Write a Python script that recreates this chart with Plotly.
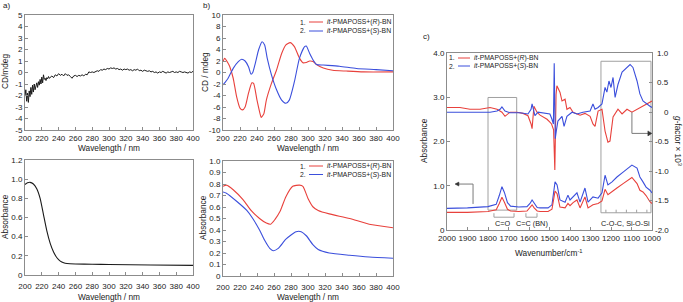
import plotly.graph_objects as go

W, H = 683, 302
def px(x): return x / W
def py(y): return 1 - y / H

RED = '#e8413c'
BLUE = '#3b4fdc'
BLACK = '#1a1a1a'
GRAY = '#8c8c8c'
FONT = 'Liberation Sans, Arial, sans-serif'

# ---------------- panel a (top): CD of polymer ----------------
wl_a_cd = list(range(200, 231)) + list(range(232, 401, 2))
cd_a = [-2.0, -1.5, -2.5, -1.8, -2.6, -1.6, -2.1, -1.3, -1.9, -1.1, -1.7, -1.0, -1.5, -1.2, -0.9,
        -1.3, -0.8, -1.1, -0.6, -1.0, -0.4, -0.9, -0.2, -0.6, -0.5, -0.7, -0.45, -0.55, -0.35, -0.5, -0.4,
        -0.3, -0.45, -0.2, -0.3, -0.1, -0.25, -0.15, -0.3, -0.1, -0.25, -0.2, -0.35, -0.5, -0.3, -0.25,
        -0.35, -0.25, -0.3, -0.2, -0.3, -0.15, -0.2, 0.05, 0.0, 0.05, 0.0, 0.1, 0.15, 0.1, 0.25,
        0.2, 0.3, 0.25, 0.35, 0.3, 0.4, 0.35, 0.4, 0.3, 0.35, 0.25, 0.3, 0.2, 0.3, 0.25,
        0.3, 0.2, 0.25, 0.15, 0.25, 0.2, 0.3, 0.15, 0.2, 0.1, 0.2, 0.15, 0.1, 0.15, 0.05,
        0.1, 0.0, 0.05, -0.05, 0.05, 0.0, 0.1, 0.05, -0.05, 0.05, 0.0, 0.05, 0.1, 0.0, 0.05,
        0.0, 0.1, 0.05, 0.0, 0.05, 0.0, -0.05, 0.05, 0.0, 0.1]

# ---------------- panel a (bottom): absorbance ----------------
wl_a_abs = [200, 203, 206, 210, 214, 218, 222, 226, 230, 234, 238, 242, 246, 250, 260, 280, 300, 350, 400]
abs_a = [0.945, 0.962, 0.967, 0.95, 0.9, 0.8, 0.63, 0.46, 0.33, 0.24, 0.18, 0.145, 0.128, 0.12, 0.115,
         0.112, 0.11, 0.105, 0.1]

# ---------------- panel b (top): CD with BN ----------------
wl_b_red = [200, 202, 206, 208, 212, 216, 220, 223, 226, 230, 234, 236, 240, 244, 245, 248, 251, 257, 263,
            269, 274, 279, 284, 290, 294, 298, 302, 306, 310, 318, 329, 345, 365, 400]
cd_b_red = [1.9, 2.45, 1.6, 1.0, -1.0, -4.2, -6.2, -6.5, -6.0, -3.6, -1.8, -1.9, -4.8, -7.4, -7.8, -7.2,
            -4.8, -1.9, 0.43, 3.3, 4.8, 5.2, 4.5, 2.5, 1.7, 1.75, 2.0, 1.9, 1.4, 0.8, 0.4, 0.25, 0.1, 0.1]
wl_b_blue = [200, 206, 212, 218, 222, 226, 230, 233, 235, 238, 242, 246, 249, 252, 257, 263, 269, 274, 278,
             284, 290, 296, 298, 302, 306, 310, 318, 337, 357, 380, 400]
cd_b_blue = [-2.17, -1.0, 0.72, 1.88, 2.3, 2.0, 1.0, -0.3, 0.0, 1.6, 4.0, 5.36, 4.8, 2.5, -0.4, -3.0, -4.8,
             -5.36, -4.8, -1.6, 2.5, 4.5, 4.6, 3.3, 2.17, 1.4, 1.3, 1.1, 0.7, 0.5, 0.3]

# ---------------- panel b (bottom): absorbance with BN ----------------
wl_b_abs_red = [200, 204, 212, 224, 233, 243, 251, 256, 261, 267, 274, 282, 290, 294, 300, 306, 312, 325,
                349, 372, 400]
abs_b_red = [0.78, 0.79, 0.75, 0.66, 0.57, 0.50, 0.46, 0.45, 0.49, 0.56, 0.69, 0.78, 0.79, 0.78, 0.675,
             0.60, 0.57, 0.54, 0.50, 0.45, 0.42]
wl_b_abs_blue = [200, 204, 216, 228, 235, 243, 249, 255, 259, 265, 274, 286, 292, 298, 306, 312, 325, 349,
                 372, 400]
abs_b_blue = [0.73, 0.72, 0.65, 0.57, 0.50, 0.40, 0.31, 0.24, 0.22, 0.24, 0.32, 0.385, 0.385, 0.35, 0.27,
              0.23, 0.20, 0.18, 0.165, 0.155]

# ---------------- panel c: IR absorbance and VCD g-factor ----------------
ir_wn = [2000, 1900, 1800, 1760, 1745, 1732, 1720, 1705, 1690, 1650, 1610, 1595, 1585, 1575, 1560, 1546,
         1507, 1488, 1473, 1463, 1449, 1424, 1410, 1400, 1385, 1366, 1351, 1327, 1312, 1288, 1263, 1244,
         1229, 1215, 1195, 1171, 1141, 1098, 1073, 1059, 1044, 1029, 1010, 1000]
ir_blue = [0.49, 0.5, 0.53, 0.58, 0.78, 0.98, 0.85, 0.62, 0.54, 0.52, 0.53, 0.6, 0.68, 0.6, 0.51, 0.5,
           0.5, 0.57, 1.09, 1.02, 0.68, 0.63, 0.79, 0.68, 0.75, 0.84, 0.63, 0.95, 0.63, 0.75, 0.72, 0.84,
           1.24, 1.02, 1.09, 1.2, 1.31, 1.47, 1.4, 1.2, 1.09, 0.97, 0.9, 0.84]
ir_red = [0.4, 0.4, 0.42, 0.46, 0.6, 0.74, 0.63, 0.47, 0.43, 0.42, 0.43, 0.5, 0.57, 0.5, 0.43, 0.42,
          0.42, 0.47, 0.88, 0.82, 0.52, 0.5, 0.6, 0.55, 0.62, 0.68, 0.5, 0.75, 0.5, 0.57, 0.6, 0.66,
          0.92, 0.8, 0.86, 0.95, 1.05, 1.19, 1.05, 0.9, 0.86, 0.78, 0.64, 0.6]

g_wn_red = [2000, 1937, 1888, 1839, 1790, 1756, 1732, 1717, 1693, 1659, 1629, 1605, 1590, 1585, 1576, 1561,
            1546, 1512, 1498, 1490, 1480, 1474, 1468, 1464, 1449, 1439, 1424, 1415, 1400, 1385, 1351, 1327,
            1302, 1288, 1278, 1263, 1244, 1229, 1215, 1205, 1190, 1166, 1146, 1122, 1098, 1073, 1044, 1010,
            1000]
g_red = [0.08, 0.08, 0.05, 0.05, 0.08, 0.05, 0.0, -0.07, 0.0, 0.0, -0.02, -0.06, -0.2, -0.28, 0.1, 0.0,
         -0.05, -0.12, -0.17, -0.2, -0.3, -0.98, 0.3, 0.45, 0.34, 0.19, 0.22, 0.05, 0.08, 0.0, -0.05, -0.02,
         -0.07, -0.2, -0.24, 0.02, 0.05, -0.32, -0.51, -0.49, -0.08, 0.05, -0.03, 0.05, 0.0, 0.05, 0.1, 0.17,
         0.19]
g_wn_blue = [2000, 1888, 1790, 1756, 1741, 1732, 1717, 1693, 1644, 1605, 1590, 1585, 1571, 1556, 1512, 1498,
             1488, 1481, 1477, 1472, 1466, 1459, 1439, 1429, 1415, 1390, 1366, 1337, 1302, 1288, 1278, 1263,
             1244, 1229, 1220, 1210, 1200, 1190, 1180, 1166, 1146, 1132, 1107, 1093, 1073, 1059, 1044, 1010,
             1000]
g_blue = [0.0, 0.0, 0.0, 0.02, 0.05, 0.09, 0.02, -0.01, -0.01, -0.03, 0.05, 0.14, -0.06, 0.0, -0.02, -0.03,
          -0.12, -0.2, 0.83, -0.45, -0.3, -0.15, -0.07, -0.24, -0.07, 0.0, -0.03, 0.0, 0.02, 0.14, 0.05, 0.08,
          0.14, 0.42, 0.34, 0.53, 0.42, 0.59, 0.25, 0.47, 0.68, 0.73, 0.81, 0.76, 0.53, 0.31, 0.19, 0.1, 0.08]

g_ticks = [1.0, 0.5, 0.0, -0.5, -1.0, -1.5, -2.0]
g_ticktext = ['1.0', '0.5', '0', '-0.5', '-1.0', '-1.5', '-2.0']

series_names = ['<i>it</i>-PMAPOSS+(<i>R</i>)-BN', '<i>it</i>-PMAPOSS+(<i>S</i>)-BN']

fig = go.Figure()

def line(x, y, color, xa, ya, shape='spline', width=1.1):
    fig.add_trace(go.Scatter(x=x, y=y, mode='lines', xaxis=xa, yaxis=ya, showlegend=False,
                             line=dict(color=color, width=width, shape=shape, smoothing=0.6),
                             hoverinfo='skip'))

line(wl_a_cd, cd_a, BLACK, 'x', 'y', shape='linear', width=1)
line(wl_a_abs, abs_a, BLACK, 'x2', 'y2')
line(wl_b_red, cd_b_red, RED, 'x3', 'y3')
line(wl_b_blue, cd_b_blue, BLUE, 'x3', 'y3')
line(wl_b_abs_red, abs_b_red, RED, 'x4', 'y4')
line(wl_b_abs_blue, abs_b_blue, BLUE, 'x4', 'y4')
line(ir_wn, ir_blue, BLUE, 'x5', 'y5', shape='linear')
line(ir_wn, ir_red, RED, 'x5', 'y5', shape='linear')
line(g_wn_red, g_red, RED, 'x5', 'y6', shape='linear')
line(g_wn_blue, g_blue, BLUE, 'x5', 'y6', shape='linear')

tickfont = dict(family=FONT, size=8, color='#222')
TITLE_SIZE = 8.3
LEG_SIZE = 6.8

def axis(domain, rng, tickvals, ticktext=None, anchor=None, **kw):
    d = dict(domain=domain, range=rng, tickvals=tickvals, showgrid=False, zeroline=False,
             showline=True, mirror=True, linecolor=GRAY, linewidth=1, ticks='inside', ticklen=3,
             tickcolor=GRAY, tickfont=tickfont, automargin=False, fixedrange=True, tickangle=0)
    if ticktext is not None:
        d['ticktext'] = ticktext
    if anchor:
        d['anchor'] = anchor
    d.update(kw)
    return d

wl_ticks = list(range(200, 401, 20))
xa_dom = [px(25), px(193)]
xb_dom = [px(223), px(393)]
ytop = [py(130), py(15)]

fig.update_layout(
    xaxis=axis(xa_dom, [200, 400], wl_ticks, anchor='y'),
    yaxis=axis(ytop, [-5, 5], list(range(-5, 6)), [str(v) for v in range(-5, 6)], anchor='x'),
    xaxis2=axis(xa_dom, [200, 400], wl_ticks, anchor='y2', ticklabelstandoff=3),
    yaxis2=axis([py(275), py(160)], [0, 1.2], [0, 0.2, 0.4, 0.6, 0.8, 1.0, 1.2],
                ['0', '0.2', '0.4', '0.6', '0.8', '1.0', '1.2'], anchor='x2'),
    xaxis3=axis(xb_dom, [200, 400], wl_ticks, anchor='y3'),
    yaxis3=axis(ytop, [-10, 10], list(range(-10, 11, 2)), [str(v) for v in range(-10, 11, 2)], anchor='x3'),
    xaxis4=axis(xb_dom, [200, 400], wl_ticks, anchor='y4', ticklabelstandoff=3),
    yaxis4=axis([py(276), py(161)], [0, 1.0], [i / 10 for i in range(11)],
                ['0'] + ['%.1f' % (i / 10) for i in range(1, 11)], anchor='x4'),
    xaxis5=axis([px(447), px(652)], [2000, 1000], list(range(2000, 999, -100)), anchor='y5'),
    yaxis5=axis([py(230), py(53.3)], [0, 4], [0, 1, 2, 3, 4], ['0', '1.0', '2.0', '3.0', '4.0'],
                anchor='x5', mirror=False),
    yaxis6=dict(domain=[py(230), py(53.3)], range=[-2, 1], overlaying='y5', side='right', anchor='x5',
                tickvals=g_ticks, showticklabels=False,
                showgrid=False, zeroline=False, showline=True, linecolor=GRAY, linewidth=1,
                ticks='inside', ticklen=3, tickcolor=GRAY, automargin=False, fixedrange=True),
    width=W, height=H, autosize=False, margin=dict(l=0, r=0, t=0, b=0),
    paper_bgcolor='white', plot_bgcolor='white', showlegend=False,
    font=dict(family=FONT, size=8, color='#222'),
)

shapes = []
annotations = []

def txt(x, y, s, size=TITLE_SIZE, xanchor='left', **kw):
    annotations.append(dict(x=px(x), y=py(y), xref='paper', yref='paper', text=s, showarrow=False,
                            xanchor=xanchor, yanchor='middle', font=dict(family=FONT, size=size, color='#222'),
                            **kw))

# axis titles
txt(109, 148, 'Wavelength / nm', xanchor='center')
txt(109, 297, 'Wavelength / nm', xanchor='center')
txt(308, 148, 'Wavelength / nm', xanchor='center')
txt(308, 297, 'Wavelength / nm', xanchor='center')
txt(549, 253, 'Wavenumber/cm<sup>-1</sup>', xanchor='center')
txt(5, 72, 'CD/mdeg', xanchor='center', textangle=-90)
txt(5, 217, 'Absorbance', xanchor='center', textangle=-90)
txt(205, 72, 'CD / mdeg', xanchor='center', textangle=-90)
txt(203, 218, 'Absorbance', xanchor='center', textangle=-90)
txt(424, 141, 'Absorbance', xanchor='center', textangle=-90)
txt(678, 141, '<i>g</i>-factor × 10<sup>3</sup>', xanchor='center', textangle=90)

# right-axis tick labels of panel c (right aligned as in the original)
for v, t in zip(g_ticks, g_ticktext):
    annotations.append(dict(x=px(671), y=v, xref='paper', yref='y6', text=t, showarrow=False,
                            xanchor='right', yanchor='middle', font=tickfont))

# panel letters
txt(1, 6, 'a)', size=8)
txt(201, 6, 'b)', size=8)
txt(421, 37, 'c)', size=8)

# legends
def legend(num_right, lx0, lx1, tx, y0, dy):
    for i, (nm, col) in enumerate(zip(series_names, [RED, BLUE])):
        yy = y0 + i * dy
        txt(num_right, yy, '%d.' % (i + 1), size=LEG_SIZE, xanchor='right')
        shapes.append(dict(type='line', xref='paper', yref='paper', x0=px(lx0), x1=px(lx1),
                           y0=py(yy), y1=py(yy), line=dict(color=col, width=1)))
        txt(tx, yy, nm, size=LEG_SIZE)

legend(308, 309, 323, 325, 22, 9)
legend(308, 309, 323, 325, 166, 8.5)
legend(457, 458, 470, 472, 58, 8)

# panel c boxes
box = dict(color='#a0a0a0', width=1)
shapes.append(dict(type='rect', xref='x5', yref='y5', x0=1800, x1=1660, y0=0.45, y1=3.0, line=box,
                   layer='below'))
shapes.append(dict(type='rect', xref='x5', yref='y5', x0=1249, x1=1005, y0=0.39, y1=3.82, line=box,
                   layer='below'))
for wn in [1225, 1175, 1125, 1075, 1025]:
    shapes.append(dict(type='line', xref='x5', yref='y5', x0=wn, x1=wn, y0=0.39, y1=0.46,
                       line=dict(color='#a0a0a0', width=1)))

# brackets under peaks
def bracket(w0, w1):
    shapes.append(dict(type='path', xref='x5', yref='y5',
                       path='M %g,0.38 L %g,0.29 L %g,0.29 L %g,0.38' % (w0, w0, w1, w1),
                       line=dict(color='#a0a0a0', width=1)))
bracket(1771, 1673)
bracket(1615, 1561)

def ctext(wn, s):
    annotations.append(dict(x=wn, y=0.14, xref='x5', yref='y5', text=s, showarrow=False,
                            font=dict(family=FONT, size=7.3, color='#222')))
ctext(1727, 'C=O')
ctext(1585, 'C=C (BN)')
ctext(1127, 'C-O-C, Si-O-Si')

# arrows pointing to the axes (drawn as line + triangular head)
arrow_col = '#7a7a7a'
head = '#333'
shapes.append(dict(type='path', xref='x5', yref='y6', path='M 1098,0 L 1098,-0.36 L 1004,-0.36',
                   line=dict(color=arrow_col, width=1)))
shapes.append(dict(type='path', xref='x5', yref='y6', path='M 1001,-0.36 L 1020,-0.318 L 1020,-0.402 Z',
                   line=dict(color=head, width=0.5), fillcolor=head))
shapes.append(dict(type='path', xref='x5', yref='y5', path='M 1873,0.59 L 1873,1.04 L 1955,1.04',
                   line=dict(color=arrow_col, width=1)))
shapes.append(dict(type='path', xref='x5', yref='y5', path='M 1961,1.04 L 1942,1.085 L 1942,0.995 Z',
                   line=dict(color=head, width=0.5), fillcolor=head))

fig.update_layout(shapes=shapes, annotations=annotations)
fig.write_html('out.html', config={'displayModeBar': False, 'staticPlot': True},
               post_script="document.body.style.margin='0';document.body.style.overflow='hidden';")
